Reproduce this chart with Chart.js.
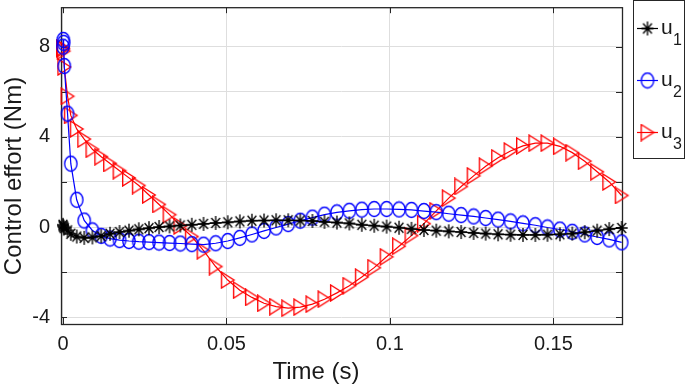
<!DOCTYPE html>
<html>
<head>
<meta charset="utf-8">
<script src="https://cdn.jsdelivr.net/npm/chart.js@4.4.1/dist/chart.umd.min.js"></script>
<style>
  html, body { margin: 0; padding: 0; background: #fff; }
  #wrap { width: 685px; height: 388px; }
</style>
</head>
<body>
<div id="wrap"><canvas id="effortChart" width="685" height="388"></canvas></div>
<script>
// time samples (s), shared by all three inputs
const time = [
    0, 0.0001, 0.0002, 0.0004, 0.0014, 0.0024, 0.0042, 0.0065, 0.0090, 0.0117,
    0.0144, 0.0173, 0.0202, 0.0232, 0.0263, 0.0294, 0.0326, 0.0359, 0.0394, 0.0430,
    0.0467, 0.0504, 0.0541, 0.0578, 0.0615, 0.0652, 0.0689, 0.0726, 0.0763, 0.0800,
    0.0838, 0.0876, 0.0914, 0.0952, 0.0990, 0.1028, 0.1066, 0.1104, 0.1142, 0.1180,
    0.1218, 0.1256, 0.1293, 0.1331, 0.1369, 0.1407, 0.1445, 0.1482, 0.1520, 0.1558,
    0.1596, 0.1634, 0.1671, 0.1709
];
const u1 = [
    0.10, 0.05, 0.00, -0.05, -0.15, -0.30, -0.42, -0.48, -0.46, -0.40,
    -0.30, -0.22, -0.16, -0.10, -0.05, 0.00, 0.03, 0.07, 0.10, 0.14,
    0.18, 0.21, 0.25, 0.28, 0.29, 0.30, 0.30, 0.29, 0.27, 0.23,
    0.20, 0.16, 0.10, 0.06, 0.02, -0.03, -0.08, -0.13, -0.16, -0.19,
    -0.22, -0.26, -0.29, -0.32, -0.34, -0.35, -0.35, -0.34, -0.32, -0.29,
    -0.23, -0.16, -0.09, -0.04
];
const u2 = [
    8.00, 8.30, 8.17, 7.14, 5.03, 2.81, 1.21, 0.29, -0.15, -0.39,
    -0.51, -0.58, -0.62, -0.65, -0.67, -0.69, -0.71, -0.73, -0.76, -0.78,
    -0.72, -0.62, -0.48, -0.33, -0.17, -0.02, 0.13, 0.28, 0.42, 0.55,
    0.65, 0.72, 0.77, 0.80, 0.80, 0.78, 0.76, 0.71, 0.66, 0.59,
    0.53, 0.47, 0.40, 0.33, 0.25, 0.16, 0.08, -0.02, -0.11, -0.21,
    -0.33, -0.44, -0.55, -0.68
];
const u3 = [
    7.95, 7.90, 7.80, 7.10, 5.80, 4.95, 4.35, 3.90, 3.45, 3.12,
    2.82, 2.50, 2.18, 1.84, 1.42, 1.00, 0.55, 0.05, -0.42, -1.05,
    -1.75, -2.35, -2.80, -3.12, -3.38, -3.53, -3.60, -3.55, -3.42, -3.20,
    -2.92, -2.60, -2.22, -1.80, -1.32, -0.85, -0.38, 0.15, 0.72, 1.28,
    1.80, 2.27, 2.70, 3.07, 3.37, 3.60, 3.72, 3.72, 3.58, 3.30,
    2.92, 2.45, 2.00, 1.40
];
const xTicks = [0, 0.05, 0.1, 0.15];
const yTicks = [-4, -2, 0, 2, 4, 6, 8];
const yLabels = [-4, 0, 4, 8];
const legendBase = 'u';
const legendSubs = ['1', '2', '3'];
const xTitle = 'Time (s)';
const yTitle = 'Control effort (Nm)';

const FONT = "'Liberation Sans', Arial, sans-serif";
const INK = '#1a1a1a';

// MATLAB-style open markers, slightly taller than wide like in the figure
function makeMarker(kind, color) {
    const c = document.createElement('canvas');
    c.width = 16; c.height = 18;
    const g = c.getContext('2d');
    g.strokeStyle = color;
    g.lineWidth = 1.35;
    g.beginPath();
    if (kind === 'star') {
        g.moveTo(8, 2); g.lineTo(8, 16);
        g.moveTo(2, 9); g.lineTo(14, 9);
        g.moveTo(3.6, 4); g.lineTo(12.4, 14);
        g.moveTo(12.4, 4); g.lineTo(3.6, 14);
    } else if (kind === 'ellipse') {
        g.ellipse(8, 9, 6.2, 7.5, 0, 0, Math.PI * 2);
    } else {
        g.moveTo(1.7, 1); g.lineTo(14.3, 9); g.lineTo(1.7, 17); g.closePath();
    }
    g.stroke();
    return c;
}

const series = [
    { data: u1, color: '#000000', marker: makeMarker('star', '#000000') },
    { data: u2, color: '#0000ff', marker: makeMarker('ellipse', '#0000ff') },
    { data: u3, color: '#ff0000', marker: makeMarker('tri', '#ff0000') },
];

const framePlugin = {
    id: 'matlabFrame',
    beforeDatasetsDraw(chart) {
        const { ctx, chartArea: a, scales: { x, y } } = chart;
        ctx.save();
        ctx.strokeStyle = '#262626';
        ctx.lineWidth = 1;
        ctx.beginPath();
        xTicks.forEach(v => {
            const px = Math.round(x.getPixelForValue(v)) + 0.5;
            ctx.moveTo(px, a.bottom); ctx.lineTo(px, a.bottom - 6);
            ctx.moveTo(px, a.top); ctx.lineTo(px, a.top + 6);
        });
        yTicks.forEach(v => {
            const py = Math.round(y.getPixelForValue(v)) + 0.5;
            ctx.moveTo(a.left, py); ctx.lineTo(a.left + 6, py);
            ctx.moveTo(a.right, py); ctx.lineTo(a.right - 6, py);
        });
        ctx.stroke();
        ctx.lineWidth = 1.3;
        ctx.strokeRect(a.left + 0.5, a.top + 0.5, a.right - a.left, a.bottom - a.top);
        ctx.restore();
    },
    afterDraw(chart) {
        const { ctx } = chart;
        ctx.save();
        ctx.fillStyle = INK;
        ctx.font = '24px ' + FONT;
        ctx.textAlign = 'center';
        ctx.textBaseline = 'alphabetic';
        ctx.fillText(xTitle, 316, 379);
        ctx.translate(21, 176);
        ctx.rotate(-Math.PI / 2);
        ctx.fillText(yTitle, 0, 0);
        ctx.restore();

        // legend box
        ctx.save();
        ctx.fillStyle = '#fff';
        ctx.fillRect(633, 0, 52, 158);
        ctx.strokeStyle = '#262626';
        ctx.lineWidth = 1;
        ctx.strokeRect(633.5, 0.5, 51, 158);
        const rows = [28, 80, 132];
        series.forEach((s, i) => {
            const ry = rows[i];
            ctx.strokeStyle = s.color;
            ctx.lineWidth = 1.2;
            ctx.beginPath();
            ctx.moveTo(637, ry + 0.5); ctx.lineTo(658, ry + 0.5);
            ctx.stroke();
            ctx.drawImage(s.marker, 647.5 - 8, ry - 8.5);
            ctx.fillStyle = INK;
            ctx.textAlign = 'left';
            ctx.textBaseline = 'alphabetic';
            ctx.font = '21px ' + FONT;
            ctx.fillText(legendBase, 661, ry + 6);
            ctx.font = '16px ' + FONT;
            ctx.fillText(legendSubs[i], 673, ry + 17);
        });
        ctx.restore();
    }
};

const ctx = document.getElementById('effortChart').getContext('2d');
new Chart(ctx, {
    type: 'line',
    data: {
        datasets: series.map(s => ({
            data: time.map((t, i) => ({ x: t, y: s.data[i] })),
            borderColor: s.color,
            borderWidth: 1.2,
            pointStyle: s.marker,
            pointRadius: 6,
            pointHoverRadius: 6,
            tension: 0,
            fill: false,
            clip: false,
        })),
    },
    options: {
        responsive: false,
        animation: false,
        events: [],
        layout: { padding: { left: 0, top: 2, right: 63, bottom: 0 } },
        plugins: { legend: { display: false }, tooltip: { enabled: false } },
        scales: {
            x: {
                type: 'linear',
                min: -0.0006,
                max: 0.171,
                afterBuildTicks: s => { s.ticks = xTicks.map(v => ({ value: v })); },
                afterFit: s => { s.height = 64; s.paddingLeft = 0; s.paddingRight = 0; },
                grid: { color: '#dedede', drawTicks: false },
                border: { display: false },
                ticks: {
                    color: INK,
                    font: { family: FONT, size: 20 },
                    padding: 8,
                    maxRotation: 0,
                    autoSkip: false,
                    callback: v => String(v),
                },
            },
            y: {
                type: 'linear',
                min: -4.3,
                max: 9.75,
                afterBuildTicks: s => { s.ticks = yTicks.map(v => ({ value: v })); },
                afterFit: s => { s.width = 61; s.paddingTop = 0; s.paddingBottom = 0; },
                grid: { color: '#dedede', drawTicks: false },
                border: { display: false },
                ticks: {
                    color: INK,
                    font: { family: FONT, size: 20 },
                    padding: 11,
                    autoSkip: false,
                    callback: v => yLabels.includes(v) ? String(v) : '',
                },
            },
        },
    },
    plugins: [framePlugin],
});
</script>
</body>
</html>
